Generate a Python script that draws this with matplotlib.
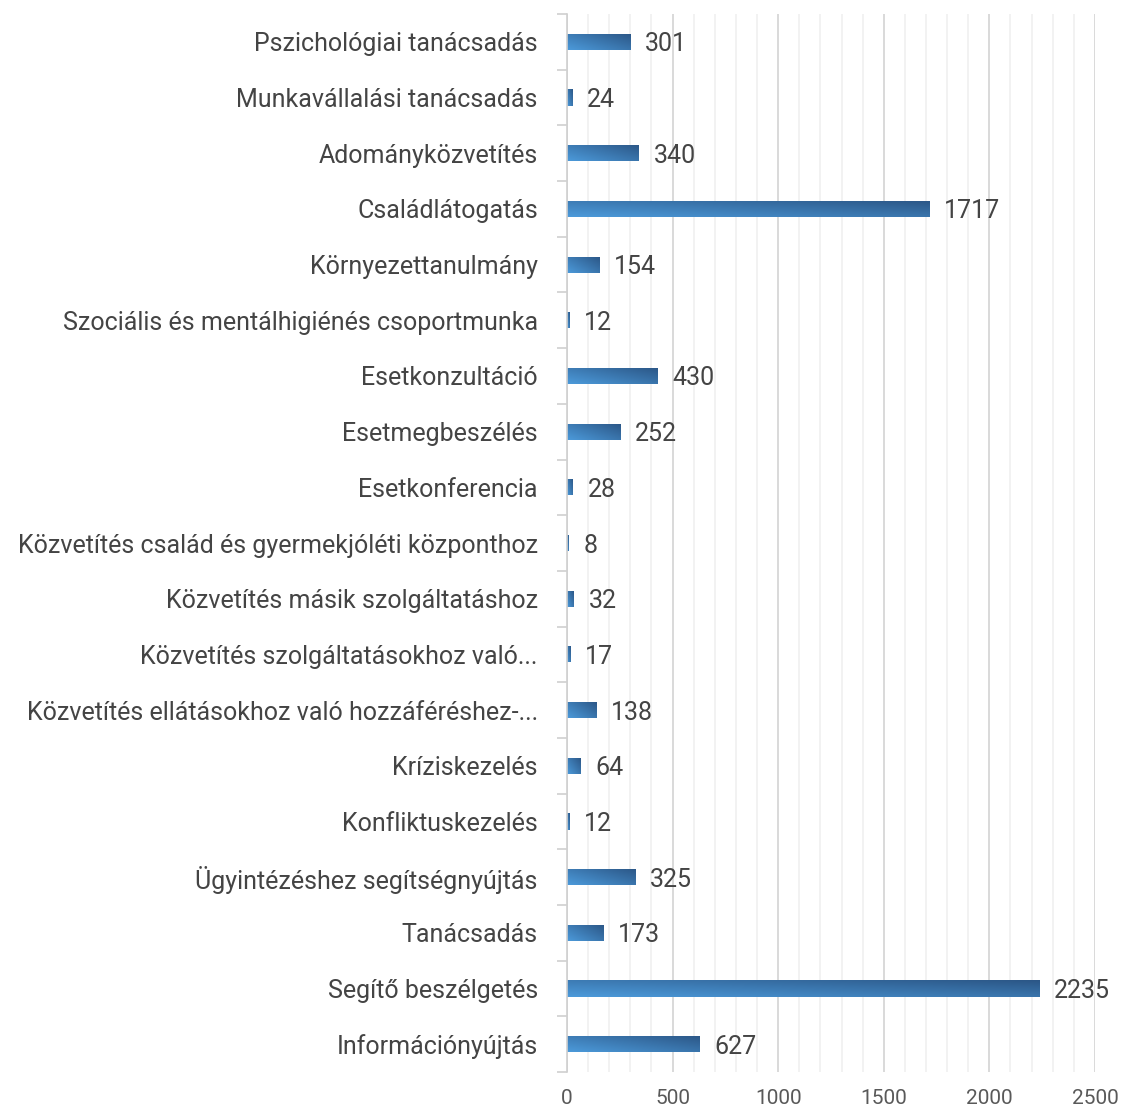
import numpy as np
import matplotlib.pyplot as plt
from matplotlib.ticker import MultipleLocator, FixedLocator

kategoriak = [
    'Pszichológiai tanácsadás',
    'Munkavállalási tanácsadás',
    'Adományközvetítés',
    'Családlátogatás',
    'Környezettanulmány',
    'Szociális és mentálhigiénés csoportmunka',
    'Esetkonzultáció',
    'Esetmegbeszélés',
    'Esetkonferencia',
    'Közvetítés család és gyermekjóléti központhoz',
    'Közvetítés másik szolgáltatáshoz',
    'Közvetítés szolgáltatásokhoz való...',
    'Közvetítés ellátásokhoz való hozzáféréshez-...',
    'Kríziskezelés',
    'Konfliktuskezelés',
    'Ügyintézéshez segítségnyújtás',
    'Tanácsadás',
    'Segítő beszélgetés',
    'Információnyújtás',
]
ertekek = [301, 24, 340, 1717, 154, 12, 430, 252, 28, 8, 32, 17, 138, 64, 12, 325, 173, 2235, 627]

plt.rcParams['font.family'] = ['Roboto', 'DejaVu Sans']
szoveg_szin = '#444444'

fig = plt.figure(figsize=(11.22, 11.13), dpi=100)
ax = fig.add_axes([0.5053, 0.0368, 0.4706, 0.9506])

n = len(kategoriak)
y = np.arange(n)[::-1]
bars = ax.barh(y, ertekek, height=0.29, color='none', edgecolor='none', zorder=3)

# szinatmenet: balra lent vilagos, jobbra fent sotet
gx = np.linspace(0, 1, 200)
gy = np.linspace(0, 1, 20)
GX, GY = np.meshgrid(gx, gy)
t = np.clip(0.55 * GX + 0.45 * GY, 0, 1)
c1 = np.array([0x4c, 0x9a, 0xda]) / 255
c2 = np.array([0x2b, 0x56, 0x86]) / 255
img = c1[None, None, :] * (1 - t[..., None]) + c2[None, None, :] * t[..., None]

for b in bars:
    x0, y0 = b.get_x(), b.get_y()
    w, h = b.get_width(), b.get_height()
    im = ax.imshow(img, extent=[x0, x0 + w, y0, y0 + h], origin='lower',
                   aspect='auto', zorder=3, interpolation='bilinear')
    im.set_clip_path(b)

for yi, v in zip(y, ertekek):
    ax.text(v + 70, yi, str(v), va='center_baseline', ha='left', fontsize=18,
            color=szoveg_szin)

ax.set_xlim(0, 2500)
ax.set_ylim(-0.5, n - 0.5)
ax.xaxis.set_major_locator(MultipleLocator(500))
ax.xaxis.set_minor_locator(MultipleLocator(100))
ax.grid(which='major', axis='x', color='#d9d9d9', lw=1.4, zorder=0)
ax.grid(which='minor', axis='x', color='#f0f0f0', lw=1.2, zorder=0)

ax.set_yticks(y)
ax.set_yticklabels(kategoriak, fontsize=18, color=szoveg_szin)
ax.yaxis.set_minor_locator(FixedLocator(np.arange(-0.5, n, 1)))
ax.tick_params(axis='y', which='major', length=0, pad=21)
ax.tick_params(axis='y', which='minor', length=7, color='#d0d0d0', width=1.2)
ax.tick_params(axis='x', which='both', length=0, labelsize=15,
               labelcolor='#595959', pad=12)

for s in ['top', 'right', 'bottom']:
    ax.spines[s].set_visible(False)
ax.spines['left'].set_color('#d0d0d0')
ax.spines['left'].set_linewidth(1.2)
ax.spines['left'].set_zorder(4)

fig.savefig('out.png', dpi=100)
